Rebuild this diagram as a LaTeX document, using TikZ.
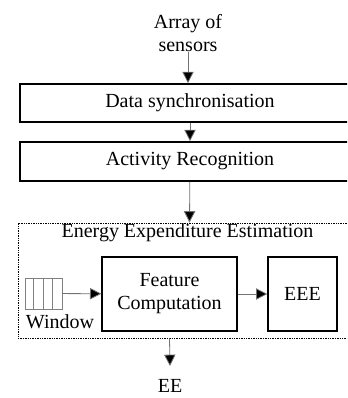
\documentclass[tikz,border=0pt]{standalone}
\usepackage{fontspec}
\setmainfont{Liberation Serif}
\usepackage{tikz}
\usetikzlibrary{shapes, arrows, arrows.meta}

\begin{document}
\begin{tikzpicture}[x=0.75pt, y=-0.75pt,
    every node/.style={font=\fontsize{15}{17.25}\selectfont, inner sep=0pt},
    flow/.style={draw=black!55, line width=0.6pt, -{Triangle[length=8.5pt, width=8.5pt, fill=black]}},
    stage/.style={draw, line width=1.3pt, minimum width=255pt},
    block/.style={draw, line width=1pt, align=center, minimum height=55.5pt}]
            \clip (0, 0) rectangle (347, 398);

            \node[align=center] (src) at (188, 33) {Array of\\sensors};
            \node[stage, minimum height=28.5pt] (sync) at (190, 103) {Data synchronisation};
            \node[stage, minimum height=29.25pt] (act) at (190, 161.5) {Activity Recognition};
            \node[draw, line width=0.7pt, dash pattern=on 1pt off 0.8pt, minimum width=256.5pt, minimum height=86.25pt] (est) at (189, 280.5) {};
            \node (title) at (187.5, 233) {Energy Expenditure Estimation};

            \node[draw=black!50, line width=0.6pt, minimum width=27.75pt, minimum height=23.25pt] (win) at (43.5, 293.5) {};
            \foreach \x in {33, 43, 52}
                \draw[black!50, line width=0.6pt] (\x, 278) -- (\x, 309);
            \node (winlabel) at (60, 322) {Window};

            \node[block, minimum width=101.25pt] (fc) at (169.5, 294) {Feature\\Computation};
            \node[block, minimum width=51.75pt] (eee) at (302.5, 294) {EEE};

            \node (out) at (170, 386) {EE};
            \coordinate (outtip) at (170, 366);

            \draw[flow] (src) -- (src |- sync.north);
            \draw[flow] (sync) -- (act);
            \draw[flow] (act) -- (est);
            \draw[flow] (win) -- (fc);
            \draw[flow] (fc) -- (eee);
            \draw[flow] (fc |- est.south) -- (outtip);
\end{tikzpicture}
\end{document}
